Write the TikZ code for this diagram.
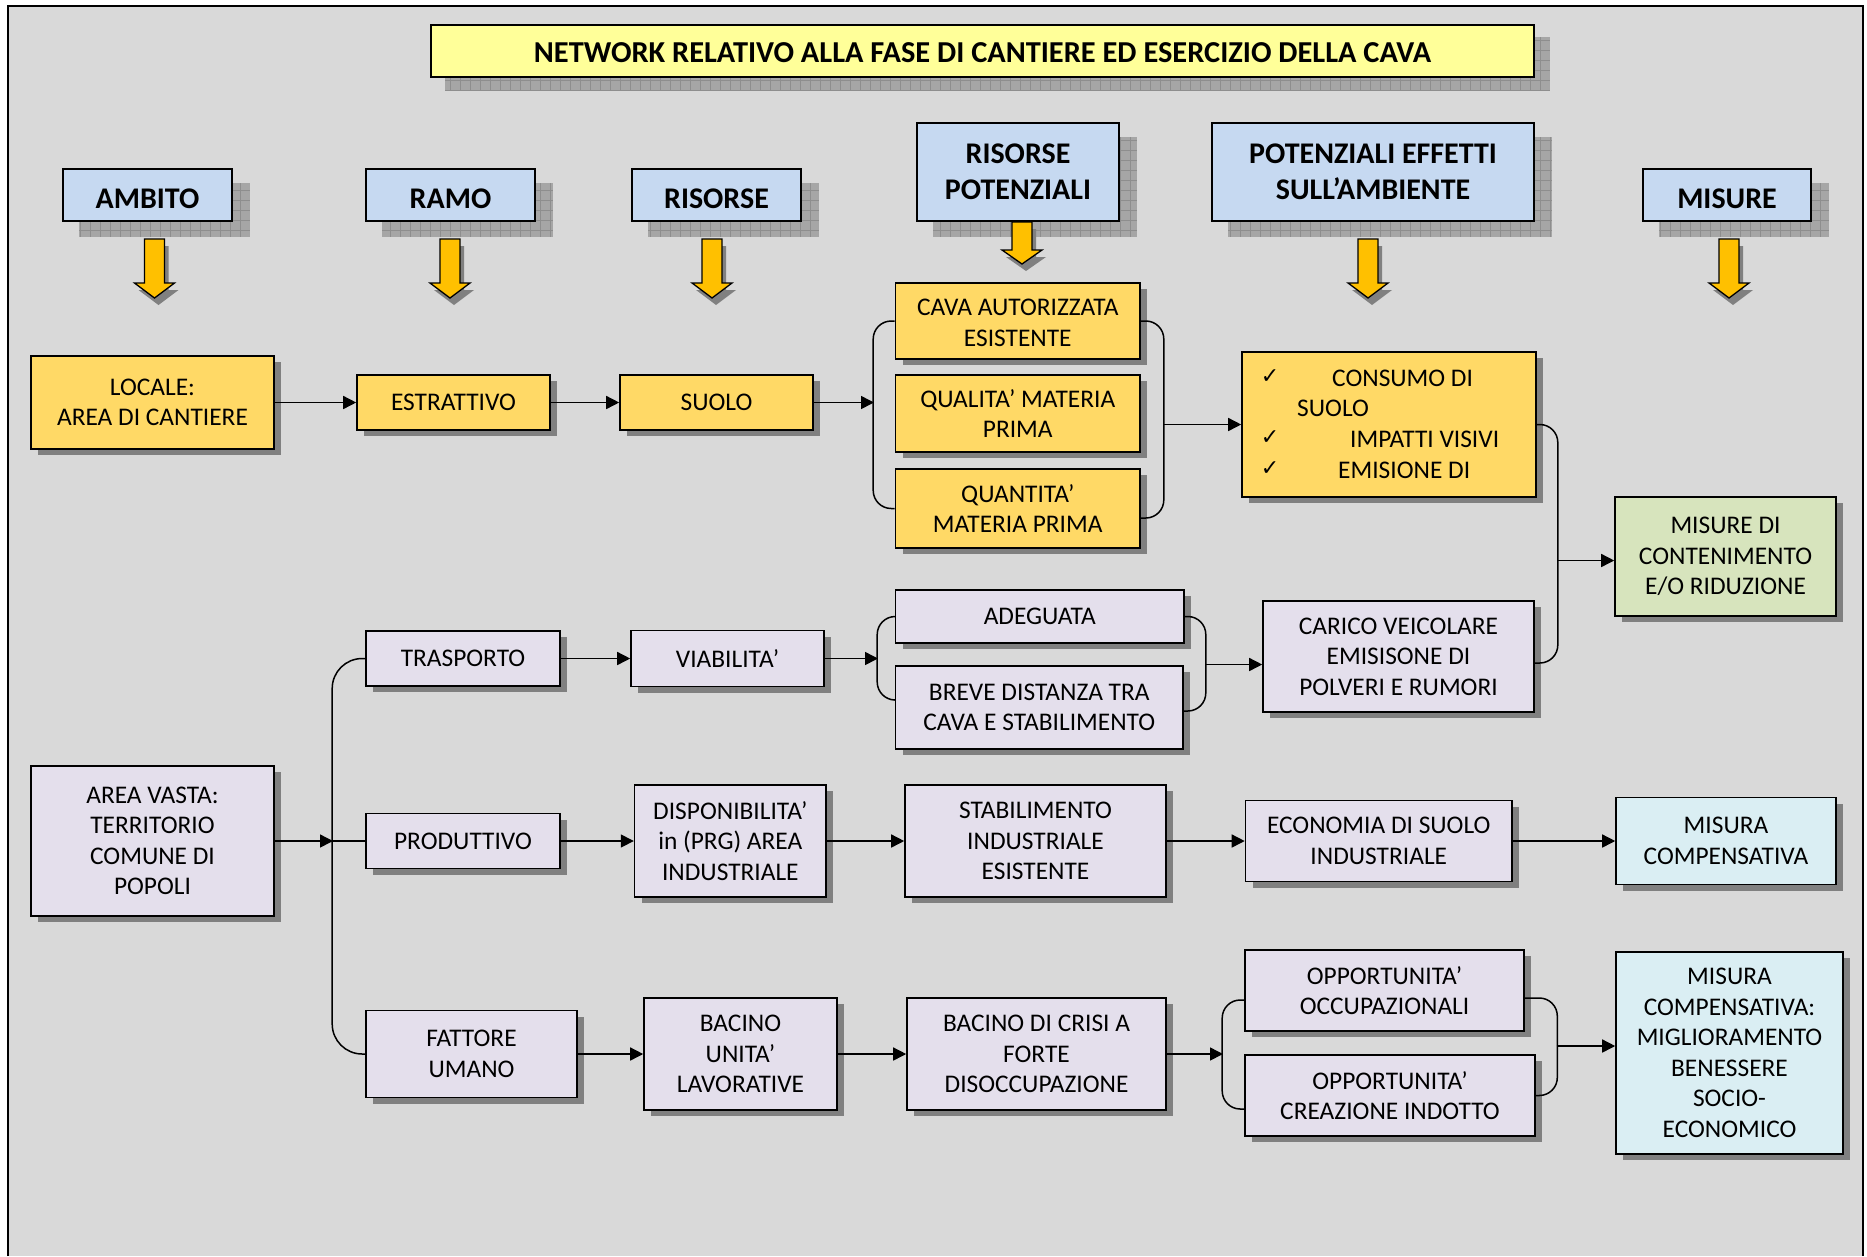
\documentclass[tikz,border=0pt]{standalone}
\usepackage{fontspec}
\setmainfont{Carlito}
\newfontfamily\symfont{DejaVu Sans}
\usetikzlibrary{arrows.meta,shadows,calc}

\definecolor{bggray}{HTML}{D9D9D9}
\definecolor{headblue}{HTML}{C6D9F1}
\definecolor{titleyellow}{HTML}{FFFF99}
\definecolor{boxyellow}{HTML}{FFD966}
\definecolor{boxlav}{HTML}{E4DFEC}
\definecolor{boxgreen}{HTML}{D7E4BD}
\definecolor{boxcyan}{HTML}{DAEEF3}
\definecolor{arrowyellow}{HTML}{FFC000}
\definecolor{shadowgray}{HTML}{808080}
\definecolor{gridshade}{HTML}{A6A6A6}
\definecolor{gridline}{HTML}{8E8E8E}

\pgfdeclarelayer{bglayer}
\pgfdeclarelayer{shadowlayer}
\pgfsetlayers{bglayer,shadowlayer,main}

\tikzset{
  bx/.style 2 args={minimum width=#1pt, minimum height=#2pt},
  box/.style={draw=black, line width=1.6pt, align=center, inner sep=0pt,
    font=\fontsize{25.4}{30.5}\selectfont,
    drop shadow={shadow xshift=7pt, shadow yshift=-6pt, fill=shadowgray, opacity=1}},
  ybox/.style={box, fill=boxyellow},
  pbox/.style={box, fill=boxlav},
  gbox/.style={box, fill=boxgreen},
  cbox/.style={box, fill=boxcyan},
  hbox/.style={draw=black, line width=1.8pt, fill=headblue, align=center, inner sep=0pt,
    font=\bfseries\fontsize{30}{36}\selectfont},
  tbox/.style={hbox, fill=titleyellow, font=\bfseries\fontsize{30.4}{34}\selectfont},
  plain/.style={inner sep=0pt, font=\fontsize{25.4}{30.5}\selectfont},
  tick/.style={inner sep=0pt, font=\symfont\fontsize{22}{24}\selectfont},
  conn/.style={line width=1.5pt, draw=black},
  arr/.style={conn, -{Triangle[length=13pt,width=13pt]}},
  bracket/.style={conn, rounded corners=18pt},
}

% text set a little lower than the centre of its box
\newcommand\lowtext[2][3.5pt]{\raisebox{-#1}[\height][\depth]{#2}}

% yellow block arrow under a heading: x, top, head base, tip
\newcommand\yarrow[4]{%
  \begin{scope}[shift={(4,7)}]
    \fill[shadowgray] (#1-10,#2) -- (#1+10,#2) -- (#1+10,#3) -- (#1+20,#3) -- (#1,#4) -- (#1-20,#3) -- (#1-10,#3) -- cycle;
  \end{scope}
  \filldraw[fill=arrowyellow, draw=black, line width=1.3pt]
    (#1-10,#2) -- (#1+10,#2) -- (#1+10,#3) -- (#1+20,#3) -- (#1,#4) -- (#1-20,#3) -- (#1-10,#3) -- cycle;
}

\begin{document}
\begin{tikzpicture}[x=1pt, y=-1pt]
\useasboundingbox (0,0) rectangle (1867,1256);

% sheet
\begin{pgfonlayer}{bglayer}
  \fill[white] (0,0) rectangle (1867,1256);
  \fill[bggray] (8,6) rectangle (1863,1256);
  \draw[line width=2.3pt] (8,1256) -- (8,6) -- (1863,6) -- (1863,1256);
\end{pgfonlayer}

% title and column headings
\node[tbox, bx={1103}{52}] (title) at (982.5,51) {\lowtext[2pt]{NETWORK RELATIVO ALLA FASE DI CANTIERE ED ESERCIZIO DELLA CAVA}};
\node[hbox, bx={169}{52}] (ambito) at (147.5,195) {\lowtext{AMBITO}};
\node[hbox, bx={169}{52}] (ramo) at (450.5,195) {\lowtext{RAMO}};
\node[hbox, bx={169}{52}] (risorse) at (716.5,195) {\lowtext{RISORSE}};
\node[hbox, bx={202}{98}] (rispot) at (1018,172) {RISORSE\\POTENZIALI};
\node[hbox, bx={322}{98}] (poteff) at (1373,172) {POTENZIALI EFFETTI\\SULL’AMBIENTE};
\node[hbox, bx={168}{52}] (misure) at (1727,195) {\lowtext{MISURE}};

% hatched shadows of the headings
\begin{pgfonlayer}{shadowlayer}
  \foreach \n/\dx/\dy in {title/15/13, ambito/17/15, ramo/17/15, risorse/17/15, rispot/17/15, poteff/17/15, misure/17/15} {
    \begin{scope}
      \clip ([shift={(\dx,\dy)}]\n.south west) rectangle ([shift={(\dx,\dy)}]\n.north east);
      \fill[gridshade] ([shift={(\dx,\dy)}]\n.south west) rectangle ([shift={(\dx,\dy)}]\n.north east);
      \draw[gridline, line width=0.8pt, step=10pt] ([shift={(\dx-10,\dy+10)}]\n.south west) grid ([shift={(\dx+10,\dy-10)}]\n.north east);
    \end{scope}
  }
\end{pgfonlayer}

% block arrows
\yarrow{154.5}{239}{283}{298}
\yarrow{450}{239}{283}{298}
\yarrow{712}{239}{283}{298}
\yarrow{1022}{222}{250}{264}
\yarrow{1368}{239}{283}{298}
\yarrow{1729}{239}{283}{298}

% local scale
\node[ybox, bx={243}{93}] (locale) at (152.5,402.5) {LOCALE:\\AREA DI CANTIERE};
\node[ybox, bx={193}{55}] (estr) at (453.5,402.5) {ESTRATTIVO};
\node[ybox, bx={193}{55}] (suolo) at (716.5,402.5) {SUOLO};
\node[ybox, bx={244.5}{76}] (cava) at (1017.75,321) {\lowtext[4pt]{\begin{tabular}{@{}c@{}}CAVA AUTORIZZATA\\ESISTENTE\end{tabular}}};
\node[ybox, bx={244.5}{77}] (qual) at (1017.75,413.5) {QUALITA’ MATERIA\\PRIMA};
\node[ybox, bx={244.5}{79}] (quant) at (1017.75,508.5) {QUANTITA’\\MATERIA PRIMA};
\node[ybox, bx={294}{145}] (consumo) at (1389,424.5) {};
\node[tick] (ck1) at (1270,377) {✓};
\node[tick] (ck2) at (1270,438) {✓};
\node[tick] (ck3) at (1270,469) {✓};
\node[plain, anchor=west] (cs1) at (1332,378) {CONSUMO DI};
\node[plain, anchor=west] (cs2) at (1297,408) {SUOLO};
\node[plain, anchor=west] (cs3) at (1350,439) {IMPATTI VISIVI};
\node[plain, anchor=west] (cs4) at (1338,470) {EMISIONE DI};
\node[gbox, bx={221}{119}] (miscont) at (1725.5,556.5) {MISURE DI\\CONTENIMENTO\\E/O RIDUZIONE};

% wide area
\node[pbox, bx={243}{150}] (areav) at (152.5,841) {AREA VASTA:\\TERRITORIO\\COMUNE DI\\POPOLI};
\node[pbox, bx={194}{55}] (trasp) at (463,658.5) {TRASPORTO};
\node[pbox, bx={193}{56}] (viab) at (727.5,658.5) {VIABILITA’};
\node[pbox, bx={288.5}{53}] (adeg) at (1039.75,616.5) {ADEGUATA};
\node[pbox, bx={287.5}{83}] (breve) at (1039.25,707.5) {BREVE DISTANZA TRA\\CAVA E STABILIMENTO};
\node[pbox, bx={271}{111}] (carico) at (1398.5,656.5) {CARICO VEICOLARE\\EMISISONE DI\\POLVERI E RUMORI};

\node[pbox, bx={194}{55}] (prod) at (463,841) {PRODUTTIVO};
\node[pbox, bx={191.4}{112}] (disp) at (730.3,841) {DISPONIBILITA’\\in (PRG) AREA\\INDUSTRIALE};
\node[pbox, bx={261}{112}] (stab) at (1035.5,841) {STABILIMENTO\\INDUSTRIALE\\ESISTENTE};
\node[pbox, bx={266.5}{81}] (econ) at (1378.75,841) {ECONOMIA DI SUOLO\\INDUSTRIALE};
\node[cbox, bx={220}{87}] (miscomp) at (1726,841) {MISURA\\COMPENSATIVA};

\node[pbox, bx={211}{87}] (fatt) at (471.5,1054) {FATTORE\\UMANO};
\node[pbox, bx={193}{112}] (bunita) at (740.5,1054) {BACINO\\UNITA’\\LAVORATIVE};
\node[pbox, bx={259}{112}] (bcrisi) at (1036.5,1054) {BACINO DI CRISI A\\FORTE\\DISOCCUPAZIONE};
\node[pbox, bx={279}{81}] (oocc) at (1384.5,990.5) {OPPORTUNITA’\\OCCUPAZIONALI};
\node[pbox, bx={290}{81}] (ocrea) at (1390,1095.5) {OPPORTUNITA’\\CREAZIONE INDOTTO};
\node[cbox, bx={227}{202}] (miscomp2) at (1729.5,1053) {MISURA\\COMPENSATIVA:\\MIGLIORAMENTO\\BENESSERE\\SOCIO-\\ECONOMICO};

% connectors: local scale
\draw[arr] (locale.east) -- (estr.west);
\draw[arr] (estr.east) -- (suolo.west);
\coordinate (lb1) at (874,402.5);
\draw[arr] (suolo.east) -- (lb1);
\draw[bracket] (cava.west) -- ++(-21.5,0) |- (quant.west);
\draw[bracket] (cava.east) -- ++(23,0) |- ([yshift=-9.5pt]quant.east);
\coordinate (rb1) at (1163,424.5);
\draw[arr] (rb1) -- (consumo.west);
\draw[bracket] (consumo.east) -- ++(21,0) |- ([yshift=-6.5pt]carico.east);
\coordinate (rb3) at (1557,560.5);
\draw[arr] (rb3) -- ([yshift=-4pt]miscont.west);

% connectors: wide area
\coordinate (tj) at (333,841);
\draw[arr] (areav.east) -- (tj);
\draw[conn] (tj) -- (prod.west);
\draw[conn, rounded corners=30pt] (trasp.west) -- ++(-33,0) |- (fatt.west);
\draw[arr] (trasp.east) -- (viab.west);
\coordinate (lb2) at (878,658.5);
\draw[arr] (viab.east) -- (lb2);
\draw[bracket] (adeg.west) -- ++(-17.5,0) |- ([yshift=7.5pt]breve.west);
\draw[bracket] (adeg.east) -- ++(21,0) |- ([yshift=-3.5pt]breve.east);
\coordinate (rb2) at (1205,664.5);
\draw[arr] (rb2) -- ([yshift=-8pt]carico.west);

\draw[arr] (prod.east) -- (disp.west);
\draw[arr] (disp.east) -- (stab.west);
\draw[arr] (stab.east) -- (econ.west);
\draw[arr] (econ.east) -- (miscomp.west);

\draw[arr] (fatt.east) -- (bunita.west);
\draw[arr] (bunita.east) -- (bcrisi.west);
\coordinate (lb4) at (1223,1054);
\draw[arr] (bcrisi.east) -- (lb4);
\draw[bracket] ([yshift=-9.5pt]oocc.west) -- ++(-22,0) |- ([yshift=-13.5pt]ocrea.west);
\draw[bracket] ([yshift=-7.5pt]oocc.east) -- ++(32.5,0) |- (ocrea.east);
\coordinate (rb4) at (1556.5,1046);
\draw[arr] (rb4) -- ([yshift=7pt]miscomp2.west);

\end{tikzpicture}
\end{document}
